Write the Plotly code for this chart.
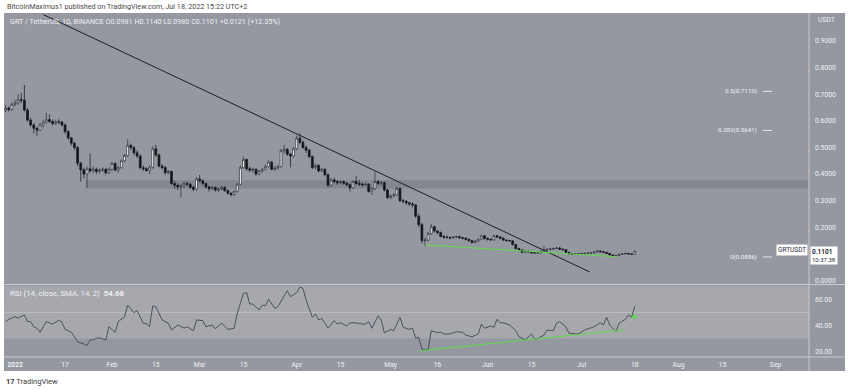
import pandas as pd
import plotly.graph_objects as go

# ---------------- data ----------------
first_open = 0.640
candle_start = "2021-12-29"
candle_end = "2022-07-18"

closes = [
    0.648, 0.643, 0.662,  # Dec 29-31
    # Jan
    0.668, 0.680, 0.678, 0.641, 0.603, 0.585, 0.572, 0.565, 0.585, 0.595,
    0.605, 0.598, 0.590, 0.597, 0.596, 0.585, 0.560, 0.536, 0.516, 0.500,
    0.441, 0.416, 0.400, 0.420, 0.412, 0.418, 0.410, 0.415, 0.418, 0.405, 0.418,
    # Feb
    0.440, 0.415, 0.425, 0.450, 0.470, 0.508, 0.500, 0.480, 0.468, 0.424,
    0.420, 0.414, 0.426, 0.495, 0.472, 0.430, 0.425, 0.405, 0.410, 0.365,
    0.358, 0.352, 0.355, 0.365, 0.362, 0.350, 0.343, 0.382,
    # Mar
    0.375, 0.365, 0.352, 0.345, 0.350, 0.340, 0.343, 0.350, 0.338, 0.328,
    0.323, 0.335, 0.362, 0.425, 0.455, 0.420, 0.415, 0.418, 0.400, 0.412,
    0.418, 0.428, 0.445, 0.418, 0.422, 0.428, 0.488, 0.493, 0.475, 0.468, 0.495,
    # Apr
    0.535, 0.520, 0.500, 0.490, 0.466, 0.425, 0.432, 0.412, 0.418, 0.398,
    0.358, 0.378, 0.372, 0.368, 0.372, 0.366, 0.360, 0.348, 0.372, 0.365,
    0.362, 0.360, 0.362, 0.335, 0.345, 0.372, 0.365, 0.368, 0.340, 0.312,
    # May
    0.318, 0.322, 0.346, 0.300, 0.298, 0.292, 0.288, 0.284, 0.242, 0.210,
    0.150, 0.152, 0.176, 0.202, 0.186, 0.180, 0.166, 0.163, 0.162, 0.160,
    0.163, 0.165, 0.161, 0.159, 0.155, 0.150, 0.143, 0.148, 0.155, 0.168, 0.158,
    # Jun
    0.155, 0.153, 0.168, 0.164, 0.159, 0.152, 0.150, 0.149, 0.135, 0.120,
    0.115, 0.106, 0.110, 0.108, 0.104, 0.103, 0.104, 0.110, 0.115, 0.117,
    0.118, 0.120, 0.122, 0.118, 0.116, 0.106, 0.100, 0.099, 0.100, 0.099,
    # Jul
    0.101, 0.102, 0.103, 0.104, 0.107, 0.111, 0.108, 0.106, 0.102, 0.096,
    0.091, 0.094, 0.098, 0.100, 0.102, 0.100, 0.0981, 0.1101,
]

highs = [
    0.660, 0.655, 0.670,
    0.680, 0.700, 0.705, 0.735, 0.648, 0.612, 0.592, 0.578, 0.592, 0.602,
    0.631, 0.625, 0.605, 0.604, 0.606, 0.600, 0.590, 0.565, 0.540, 0.522,
    0.505, 0.446, 0.425, 0.428, 0.478, 0.428, 0.425, 0.422, 0.425, 0.422, 0.424,
    0.446, 0.445, 0.430, 0.455, 0.476, 0.531, 0.515, 0.505, 0.490, 0.475,
    0.432, 0.426, 0.432, 0.505, 0.510, 0.478, 0.438, 0.430, 0.416, 0.414,
    0.375, 0.365, 0.362, 0.372, 0.372, 0.366, 0.356, 0.388,
    0.397, 0.380, 0.368, 0.356, 0.354, 0.353, 0.350, 0.356, 0.355, 0.342,
    0.332, 0.338, 0.366, 0.432, 0.466, 0.458, 0.428, 0.424, 0.422, 0.416,
    0.424, 0.436, 0.452, 0.450, 0.430, 0.434, 0.494, 0.510, 0.498, 0.480, 0.502,
    0.545, 0.553, 0.526, 0.508, 0.495, 0.470, 0.440, 0.438, 0.424, 0.422,
    0.402, 0.384, 0.386, 0.378, 0.376, 0.376, 0.370, 0.364, 0.376, 0.392,
    0.378, 0.368, 0.366, 0.365, 0.352, 0.410, 0.378, 0.375, 0.372, 0.345,
    0.324, 0.328, 0.352, 0.350, 0.306, 0.302, 0.296, 0.294, 0.288, 0.252,
    0.216, 0.162, 0.182, 0.213, 0.206, 0.190, 0.184, 0.170, 0.168, 0.166,
    0.167, 0.169, 0.169, 0.164, 0.162, 0.158, 0.153, 0.151, 0.158, 0.172, 0.170,
    0.162, 0.158, 0.172, 0.171, 0.167, 0.162, 0.155, 0.153, 0.151, 0.137,
    0.123, 0.117, 0.113, 0.112, 0.110, 0.107, 0.107, 0.112, 0.130, 0.121,
    0.122, 0.124, 0.126, 0.127, 0.121, 0.118, 0.108, 0.103, 0.103, 0.102,
    0.104, 0.104, 0.106, 0.107, 0.110, 0.114, 0.113, 0.111, 0.108, 0.104,
    0.098, 0.097, 0.100, 0.102, 0.104, 0.104, 0.102, 0.1140,
]

lows = [
    0.632, 0.635, 0.638,
    0.655, 0.660, 0.668, 0.635, 0.598, 0.578, 0.553, 0.543, 0.560, 0.575,
    0.590, 0.592, 0.582, 0.584, 0.588, 0.578, 0.552, 0.528, 0.508, 0.490,
    0.430, 0.372, 0.385, 0.347, 0.405, 0.405, 0.400, 0.402, 0.408, 0.398, 0.400,
    0.412, 0.410, 0.405, 0.420, 0.445, 0.465, 0.490, 0.472, 0.460, 0.418,
    0.412, 0.408, 0.400, 0.420, 0.465, 0.425, 0.418, 0.398, 0.400, 0.360,
    0.345, 0.340, 0.313, 0.348, 0.355, 0.345, 0.336, 0.338,
    0.368, 0.358, 0.346, 0.335, 0.340, 0.334, 0.332, 0.338, 0.333, 0.322,
    0.316, 0.318, 0.330, 0.358, 0.420, 0.412, 0.408, 0.406, 0.394, 0.396,
    0.406, 0.414, 0.424, 0.414, 0.412, 0.418, 0.424, 0.478, 0.468, 0.425, 0.462,
    0.490, 0.512, 0.494, 0.480, 0.460, 0.418, 0.418, 0.406, 0.408, 0.392,
    0.350, 0.352, 0.366, 0.360, 0.362, 0.360, 0.354, 0.335, 0.344, 0.360,
    0.355, 0.352, 0.355, 0.330, 0.322, 0.340, 0.358, 0.358, 0.334, 0.306,
    0.305, 0.312, 0.318, 0.295, 0.290, 0.284, 0.280, 0.275, 0.236, 0.200,
    0.140, 0.128, 0.148, 0.172, 0.180, 0.174, 0.162, 0.158, 0.157, 0.155,
    0.157, 0.160, 0.157, 0.154, 0.151, 0.145, 0.139, 0.140, 0.145, 0.152, 0.154,
    0.150, 0.149, 0.150, 0.160, 0.155, 0.149, 0.146, 0.145, 0.132, 0.117,
    0.111, 0.102, 0.103, 0.104, 0.101, 0.100, 0.101, 0.101, 0.108, 0.112,
    0.114, 0.116, 0.118, 0.115, 0.113, 0.104, 0.098, 0.096, 0.097, 0.096,
    0.097, 0.099, 0.100, 0.101, 0.102, 0.105, 0.106, 0.104, 0.100, 0.094,
    0.0886, 0.089, 0.092, 0.096, 0.098, 0.098, 0.096, 0.0980,
]

# RSI (14) readings: day offset from 2022-01-01 and value
rsi_days = [
    -3, -2, 0, 1, 3, 4, 5, 6, 7, 8, 9, 10, 12, 13, 14, 15, 16, 18, 19, 20,
    22, 23, 24, 25, 26, 27, 29, 30, 32, 33, 35, 36, 38, 39, 41, 42, 43, 44, 45, 47,
    49, 50, 52, 54, 55, 57, 58, 60, 61, 63, 64, 66, 68, 70, 71, 73, 74, 75, 76, 78,
    79, 80, 81, 83, 84, 85, 87, 88, 90, 91, 92, 93, 95, 96, 97, 98, 100, 102, 103, 104,
    106, 107, 109, 111, 112, 113, 114, 116, 117, 118, 120, 121, 123, 124, 126, 127, 128, 129, 130, 131,
    132, 133, 135, 136, 137, 139, 141, 143, 144, 146, 148, 149, 150, 152, 153, 154, 155, 156, 158, 160,
    161, 163, 165, 166, 167, 169, 170, 172, 173, 174, 176, 177, 179, 180, 182, 184, 185, 187, 188, 189,
    190, 192, 193, 195, 196, 197, 198,
]
rsi_vals = [
    42.9, 44.7, 46.7, 45.7, 48.0, 43.0, 43.0, 39.0, 37.9, 34.8, 39.0, 43.0, 41.0, 42.5, 44.0, 42.5, 37.0, 35.0, 31.5, 27.6,
    25.9, 24.6, 29.0, 29.0, 30.2, 30.6, 29.0, 39.0, 34.8, 43.0, 46.7, 55.6, 49.8, 51.3, 41.7, 41.5, 39.0, 54.9, 54.4, 44.2,
    41.7, 36.6, 40.4, 38.0, 39.0, 36.0, 44.2, 43.7, 39.0, 40.4, 37.5, 41.7, 37.0, 37.9, 49.3, 64.6, 65.0, 56.4, 56.4, 51.8,
    55.6, 55.0, 60.0, 53.1, 54.4, 58.2, 66.6, 62.0, 65.0, 69.2, 68.4, 59.5, 46.3, 48.8, 44.2, 45.5, 37.9, 43.7, 41.1, 42.1,
    39.6, 42.0, 42.0, 41.1, 41.1, 42.9, 37.9, 47.3, 44.2, 34.5, 37.0, 36.0, 46.3, 38.6, 37.0, 38.0, 30.2, 31.0, 21.8, 21.3,
    22.0, 36.0, 34.5, 35.0, 33.5, 33.5, 35.3, 34.8, 32.7, 31.4, 33.5, 41.1, 37.9, 39.6, 38.6, 44.7, 42.1, 42.1, 40.4, 36.0,
    31.4, 29.0, 33.5, 29.5, 30.0, 32.7, 36.6, 36.0, 41.7, 42.9, 39.0, 34.0, 33.5, 33.5, 36.6, 38.6, 39.0, 42.1, 40.4, 46.3,
    40.4, 35.3, 41.7, 44.7, 48.0, 46.3, 54.68,
]

# drawn lines (date, value)
trend_dates = ["2022-01-10 00:00", "2022-07-03 16:00"]
trend_vals = [1.000, 0.032]
support_dates = ["2022-05-12 00:00", "2022-07-12 07:00"]
support_vals = [0.1335, 0.0895]
rsi_support_dates = ["2022-05-10 10:00", "2022-07-14 14:00"]
rsi_support_vals = [20.7, 36.6]
rsi_marker_date = ["2022-07-17 20:00"]
rsi_marker_val = [46.7]

zone_start = "2022-01-23 17:00"
zone_low, zone_high = 0.346, 0.377

fib_levels = [0.7110, 0.5641, 0.0886]
fib_labels = ["0.5(0.7110)", "0.382(0.5641)", "0(0.0886)"]

price_ticks = [0.0, 0.2, 0.3, 0.4, 0.5, 0.6, 0.7, 0.8, 0.9]
price_ticktext = ["0.0000", "0.2000", "0.3000", "0.4000", "0.5000", "0.6000", "0.7000", "0.8000", "0.9000"]
rsi_ticks = [20, 40, 60]
rsi_ticktext = ["20.00", "40.00", "60.00"]
date_ticks = ["2022-01-01", "2022-01-17", "2022-02-01", "2022-02-15", "2022-03-01", "2022-03-15",
              "2022-04-01", "2022-04-15", "2022-05-01", "2022-05-16", "2022-06-01", "2022-06-15",
              "2022-07-01", "2022-07-18", "2022-08-01", "2022-08-15", "2022-09-01"]
date_ticktext = ["<b>2022</b>", "17", "Feb", "15", "Mar", "15", "Apr", "15", "May", "16", "Jun", "15",
                 "Jul", "18", "Aug", "15", "Sep"]
last_price = 0.1101

# ---------------- build ----------------
dates = pd.date_range(candle_start, candle_end, freq="D")
assert len(dates) == len(closes) == len(highs) == len(lows), (len(dates), len(closes), len(highs), len(lows))
opens = [first_open] + closes[:-1]
jan1 = pd.Timestamp("2022-01-01")
rsi_dates = [jan1 + pd.Timedelta(days=d) for d in rsi_days]

W, H = 850, 390
def px(x):
    return x / W
def py(y):
    return 1 - y / H

PX_PER_DAY = 3.13
JAN1_PX = 15
x_start = jan1 + pd.Timedelta(days=(4 - JAN1_PX) / PX_PER_DAY)
x_end = jan1 + pd.Timedelta(days=(809 - JAN1_PX) / PX_PER_DAY)

BG = "#9598a1"
BAND = "#a6a8ae"
ZONE = "#84878f"
SEP = "#c9cbd0"
TXT = "#eef0f3"
GREEN = "#5ddc4a"
FONT = "Roboto"
DARK = "#15161a"

fig = go.Figure()
fig.add_trace(go.Candlestick(
    x=dates, open=opens, high=highs, low=lows, close=closes,
    increasing=dict(line=dict(color="#2a2c33", width=0.7), fillcolor="#ffffff"),
    decreasing=dict(line=dict(color=DARK, width=0.7), fillcolor=DARK),
    whiskerwidth=0, xaxis="x", yaxis="y", showlegend=False, hoverinfo="skip",
))
fig.add_trace(go.Scatter(x=trend_dates, y=trend_vals, mode="lines",
                         line=dict(color="#1d1e22", width=1), xaxis="x", yaxis="y",
                         showlegend=False, hoverinfo="skip"))
fig.add_trace(go.Scatter(x=support_dates, y=support_vals, mode="lines",
                         line=dict(color=GREEN, width=1), xaxis="x", yaxis="y",
                         showlegend=False, hoverinfo="skip"))
fig.add_trace(go.Scatter(x=rsi_dates, y=rsi_vals, mode="lines",
                         line=dict(color="#44474f", width=0.9), xaxis="x2", yaxis="y2",
                         showlegend=False, hoverinfo="skip"))
fig.add_trace(go.Scatter(x=rsi_support_dates, y=rsi_support_vals, mode="lines",
                         line=dict(color=GREEN, width=1), xaxis="x2", yaxis="y2",
                         showlegend=False, hoverinfo="skip"))
fig.add_trace(go.Scatter(x=rsi_marker_date, y=rsi_marker_val, mode="markers",
                         marker=dict(symbol="triangle-up", size=6, color=GREEN),
                         xaxis="x2", yaxis="y2", showlegend=False, hoverinfo="skip"))

shapes = [
    dict(type="rect", xref="paper", yref="paper", x0=px(4), x1=px(845), y0=py(371), y1=py(13),
         fillcolor=BG, line=dict(width=0), layer="below"),
    dict(type="rect", xref="paper", yref="y2", x0=px(4), x1=px(809), y0=30, y1=70,
         fillcolor=BAND, line=dict(width=0), layer="below"),
    dict(type="line", xref="paper", yref="y2", x0=px(4), x1=px(809), y0=50, y1=50,
         line=dict(color="#bcbec4", width=1), layer="below"),
    dict(type="rect", xref="x", yref="y", x0=zone_start, x1=x_end, y0=zone_low, y1=zone_high,
         fillcolor=ZONE, line=dict(width=0), layer="below"),
    dict(type="line", xref="paper", yref="paper", x0=px(4), x1=px(845), y0=py(284.5), y1=py(284.5),
         line=dict(color=SEP, width=1)),
    dict(type="line", xref="paper", yref="paper", x0=px(4), x1=px(845), y0=py(357), y1=py(357),
         line=dict(color=SEP, width=1)),
    dict(type="line", xref="paper", yref="paper", x0=px(809), x1=px(809), y0=py(371), y1=py(13),
         line=dict(color=SEP, width=1)),
]
for lv in fib_levels:
    shapes.append(dict(type="line", xref="paper", yref="y", x0=px(763), x1=px(772), y0=lv, y1=lv,
                       line=dict(color="#e4e5e8", width=1)))

annotations = [
    dict(text="BitcoinMaximus1 published on TradingView.com, Jul 18, 2022 15:22 UTC+2",
         xref="paper", yref="paper", x=px(5), y=py(6.5), xanchor="left", yanchor="middle",
         showarrow=False, font=dict(family=FONT, size=7.2, color="#4a4a4a")),
    dict(text="GRT / TetherUS, 1D, BINANCE O0.0981 H0.1140 L0.0980 C0.1101 +0.0121 (+12.35%)",
         xref="paper", yref="paper", x=px(8), y=py(21), xanchor="left", yanchor="middle",
         showarrow=False, font=dict(family=FONT, size=7.2, color=TXT)),
    dict(text="USDT", xref="paper", yref="paper", x=px(816), y=py(20), xanchor="left", yanchor="middle",
         showarrow=False, font=dict(family=FONT, size=6.8, color=TXT)),
    dict(text="RSI (14, close, SMA, 14, 2)  <b>54.68</b>", xref="paper", yref="paper", x=px(8), y=py(293),
         xanchor="left", yanchor="middle", showarrow=False, font=dict(family=FONT, size=7.8, color=TXT)),
    dict(text="<b>17</b> TradingView", xref="paper", yref="paper", x=px(4), y=py(381),
         xanchor="left", yanchor="middle", showarrow=False, font=dict(family=FONT, size=7.5, color="#3a3a3a")),
    dict(text="GRTUSDT", xref="paper", yref="y", x=px(808), y=last_price, xanchor="right", yanchor="middle",
         yshift=1, showarrow=False, bgcolor="#ffffff", borderpad=1,
         font=dict(family=FONT, size=6.5, color="#2a2e39")),
    dict(text="<b>0.1101</b><br><span style='font-size:6px'>10:37:38</span>", xref="paper", yref="y",
         x=px(810), y=last_price, xanchor="left", yanchor="top", yshift=5, showarrow=False,
         bgcolor="#ffffff", borderpad=1, align="left",
         font=dict(family=FONT, size=6.5, color="#2a2e39")),
]
for lv, lab in zip(fib_levels, fib_labels):
    annotations.append(dict(text=lab, xref="paper", yref="y", x=px(759), y=lv, xanchor="right",
                            yanchor="middle", showarrow=False,
                            font=dict(family=FONT, size=6.2, color=TXT)))

fig.update_layout(
    width=W, height=H, margin=dict(l=0, r=0, t=0, b=0),
    paper_bgcolor="#ffffff", plot_bgcolor="rgba(0,0,0,0)",
    showlegend=False, shapes=shapes, annotations=annotations, boxgap=0.15,
    xaxis=dict(domain=[px(4), px(809)], range=[x_start, x_end], anchor="y",
               showticklabels=False, showgrid=False, zeroline=False, showline=False, ticks="",
               rangeslider=dict(visible=False), fixedrange=True),
    yaxis=dict(domain=[py(284), py(13)], range=[-0.01316, 1.00564], anchor="x", side="right",
               tickvals=price_ticks, ticktext=price_ticktext, ticks="", ticklabelstandoff=5,
               tickfont=dict(family=FONT, size=6.8, color=TXT),
               showgrid=False, zeroline=False, showline=False, fixedrange=True),
    xaxis2=dict(domain=[px(4), px(809)], range=[x_start, x_end], anchor="y2", matches="x",
                tickvals=date_ticks, ticktext=date_ticktext, ticks="", ticklabelstandoff=2,
                tickfont=dict(family=FONT, size=6.8, color=TXT),
                showgrid=False, zeroline=False, showline=False, fixedrange=True),
    yaxis2=dict(domain=[py(357), py(285)], range=[15.95, 70.9], anchor="x2", side="right",
                tickvals=rsi_ticks, ticktext=rsi_ticktext, ticks="", ticklabelstandoff=5,
                tickfont=dict(family=FONT, size=6.8, color=TXT),
                showgrid=False, zeroline=False, showline=False, fixedrange=True),
)

fig.write_html("out.html", config={"displayModeBar": False},
               post_script="document.body.style.margin='0px';")
